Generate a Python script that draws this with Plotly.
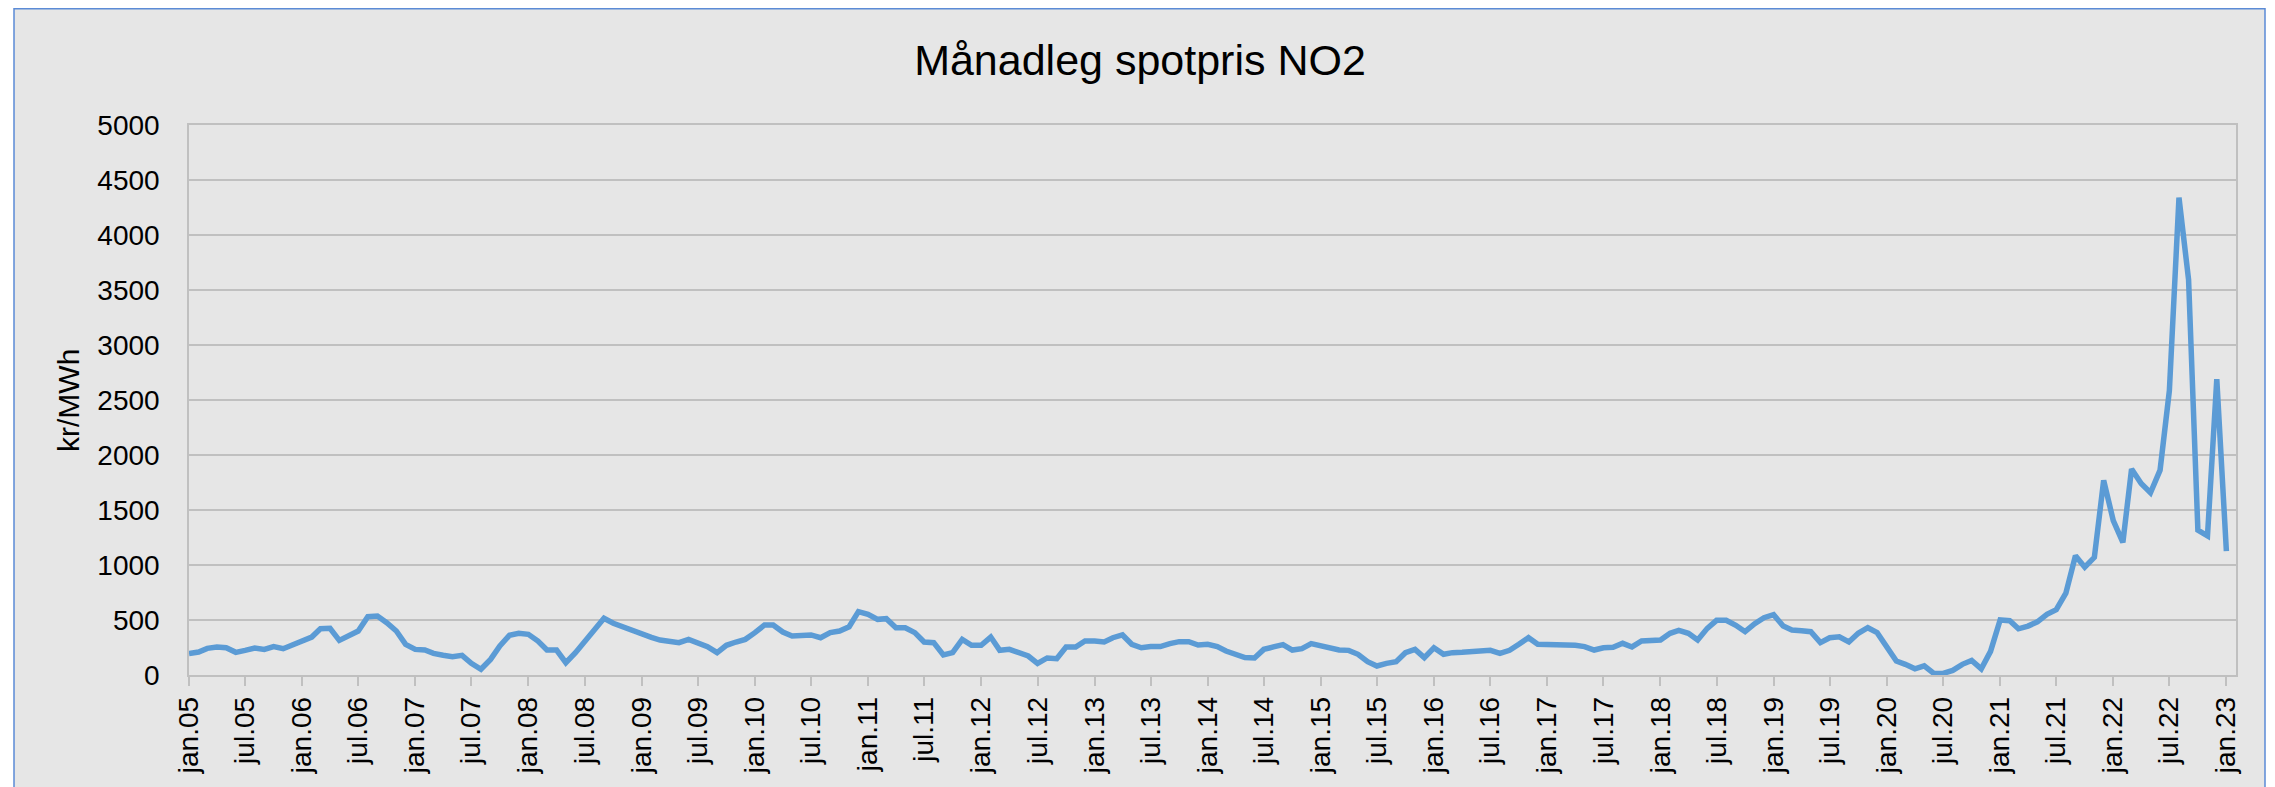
import pandas as pd
import plotly.graph_objects as go

# Monthly spot price NO2 (kr/MWh), jan.05 .. jan.23
months = pd.date_range("2005-01-01", periods=217, freq="MS")

prices_2005_2007 = [194, 209, 242, 255, 248, 206, 224, 245, 233, 258, 239, 276,
                    315, 345, 421, 424, 315, 355, 400, 530, 536, 476, 400, 279,
                    233, 227, 197, 179, 167, 179, 106, 52, 142, 264, 361, 379]
prices_2008_2010 = [370, 309, 227, 227, 112, 203, 303, 394, 515, 470, 436, 409,
                    379, 342, 318, 303, 294, 324, 294, 258, 203, 270, 300, 324,
                    385, 455, 455, 391, 355, 361, 364, 339, 385, 400, 439, 576]
prices_2011_2013 = [552, 506, 512, 430, 430, 385, 300, 294, 182, 203, 324, 270,
                    270, 345, 224, 233, 197, 173, 106, 155, 148, 255, 255, 309,
                    309, 300, 339, 364, 279, 248, 258, 258, 285, 303, 303, 273]
prices_2014_2016 = [279, 258, 218, 188, 158, 155, 233, 255, 276, 227, 239, 285,
                    264, 255, 227, 224, 188, 121, 82, 106, 121, 203, 233, 158,
                    248, 188, 203, 206, 212, 227, 224, 197, 224, 279, 339, 279]
prices_2017_2019 = [279, 276, 279, 270, 258, 227, 248, 252, 288, 255, 309, 315,
                    318, 379, 406, 379, 318, 424, 497, 497, 452, 394, 467, 521,
                    548, 445, 409, 403, 394, 294, 339, 348, 300, 379, 430, 385]
prices_2020_2023 = [250, 127, 97, 56, 83, 14, 14, 42, 97, 132, 56, 215,
                    500, 493, 420, 445, 483, 552, 594, 744, 1084, 980, 1070, 1769,
                    1404, 1206, 1873, 1741, 1657, 1862, 2585, 4340, 3593, 1317, 1265, 2689,
                    1126]

prices = (prices_2005_2007 + prices_2008_2010 + prices_2011_2013 +
          prices_2014_2016 + prices_2017_2019 + prices_2020_2023)

month_abbr = {1: "jan", 7: "jul"}
tick_dates = [d for d in months if d.month in (1, 7)]
tick_text = [f"{month_abbr[d.month]}.{d.year % 100:02d}" for d in tick_dates]

title_text = "Månadleg spotpris NO2"
y_title = "kr/MWh"

FONT = "Liberation Sans, Arial, sans-serif"
BG = "#E6E6E6"
GRID = "#C0C0C0"

# page body has an 8px margin: work in figure coordinates shifted by it
OFF = 8
W, H = 2275 - OFF, 787 - OFF
L, R, T, B = 189 - OFF, 2236 - OFF, 125 - OFF, 675 - OFF
pw, ph = R - L, B - T

fig = go.Figure()
fig.add_trace(go.Scatter(
    x=months, y=prices, mode="lines",
    line=dict(color="#5B9BD5", width=5.5),
    hoverinfo="x+y", showlegend=False,
))

# chart frame (Excel-style chart area)
fig.add_shape(type="rect", xref="paper", yref="paper",
              x0=(14 - OFF - L) / pw, x1=(2265 - OFF - L) / pw,
              y0=(B - 820) / ph, y1=(B - 0.8) / ph,
              fillcolor=BG, line=dict(color="#5B8BD6", width=1.5),
              layer="below")

fig.add_annotation(text=y_title, xref="paper", yref="paper",
                   x=(68 - OFF - L) / pw, y=(B - (401 - OFF)) / ph,
                   textangle=-90, showarrow=False,
                   xanchor="center", yanchor="middle",
                   font=dict(family=FONT, size=30, color="black"))

fig.update_layout(
    width=W, height=H,
    margin=dict(l=L, r=W - R, t=T, b=H - B, autoexpand=False),
    paper_bgcolor="white", plot_bgcolor=BG,
    title=dict(text=title_text, x=((1140 - OFF) / W), xanchor="center",
               y=1 - (60 - OFF) / H, yanchor="middle", yref="container",
               font=dict(family=FONT, size=43, color="black")),
    xaxis=dict(
        range=[months[0], pd.Timestamp("2023-02-01")],
        tickvals=tick_dates, ticktext=tick_text, tickangle=-90,
        ticks="outside", ticklen=9, tickwidth=1.5, tickcolor=GRID,
        showgrid=False, showline=True, linecolor=GRID, linewidth=1.5,
        mirror=True, zeroline=False,
        tickfont=dict(family=FONT, size=28, color="black"),
    ),
    yaxis=dict(
        range=[0, 5000], dtick=500, tick0=0,
        showgrid=True, gridcolor=GRID, gridwidth=1.5,
        showline=True, linecolor=GRID, linewidth=1.5, mirror=True,
        zeroline=False, ticks="", ticklabelstandoff=22,
        tickfont=dict(family=FONT, size=28, color="black"),
    ),
)

fig.write_html("out.html")
